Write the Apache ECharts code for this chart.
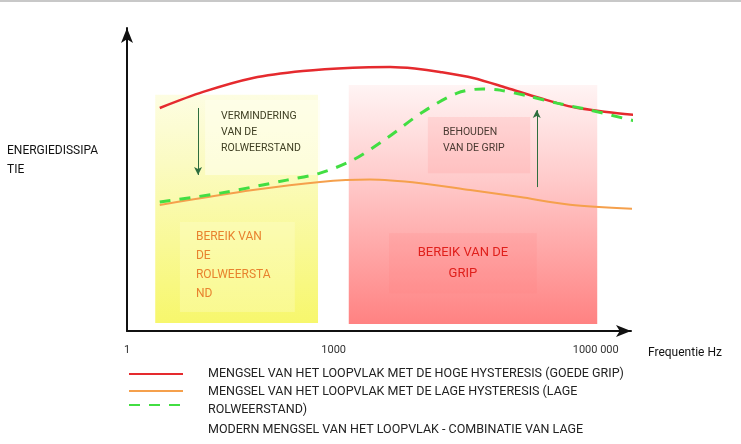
<!DOCTYPE html>
<html>
<head>
<meta charset="utf-8">
<script src="https://cdn.jsdelivr.net/npm/echarts@6/dist/echarts.min.js"></script>
<style>
  html, body { margin: 0; padding: 0; background: #fff; }
  #main { width: 741px; height: 444px; }
</style>
</head>
<body>
<div id="main"></div>
<script>
// x = relatieve frequentie-as (0..100), y = energiedissipatie (0..100)
var xTickPos = [0, 41, 93];
var xTickLabels = ['1', '1000', '1000 000'];

var nameHoog = 'MENGSEL VAN HET LOOPVLAK MET DE HOGE HYSTERESIS (GOEDE GRIP)';
var nameLaag = 'MENGSEL VAN HET LOOPVLAK MET DE LAGE HYSTERESIS (LAGE ROLWEERSTAND)';
var nameModern = 'MODERN MENGSEL VAN HET LOOPVLAK - COMBINATIE VAN LAGE';

// tekstregels van de legenda (zoals in het origineel afgebroken)
var legendaRegels = [
  'MENGSEL VAN HET LOOPVLAK MET DE HOGE HYSTERESIS (GOEDE GRIP)',
  'MENGSEL VAN HET LOOPVLAK MET DE LAGE HYSTERESIS (LAGE',
  'ROLWEERSTAND)',
  'MODERN MENGSEL VAN HET LOOPVLAK - COMBINATIE VAN LAGE'
];

// rode curve: hoge hysteresis
var hoogX = [6.5, 15.1, 25.0, 34.9, 44.8, 52.2, 57.1, 62.1, 68.7, 75.4, 81.9, 88.5, 95.2, 100.8];
var hoogY = [73.6, 78.9, 83.5, 85.8, 86.9, 87.1, 86.6, 85.5, 83.5, 80.2, 76.9, 73.9, 72.3, 71.3];

// oranje curve: lage hysteresis
var laagX = [6.5, 25.0, 38.3, 48.2, 58.3, 68.1, 78.0, 87.9, 100.8];
var laagY = [41.6, 46.5, 49.2, 50.0, 48.8, 46.5, 44.2, 41.7, 40.3];

// groene stippellijn: modern mengsel
var modernX = [6.5, 18.5, 31.7, 38.3, 44.8, 51.6, 58.7, 65.5, 70.6, 74.0, 79.4, 85.3, 91.9, 100.8];
var modernY = [42.6, 45.5, 49.8, 52.1, 56.4, 63.7, 72.3, 78.5, 79.9, 79.5, 77.6, 75.2, 72.9, 69.3];

// gebieden [x1, x2, y1, y2]
var bereikRol = [5.6, 37.9, 2.6, 78.0];
var bereikRolTekst = [10.5, 33.3, 6.3, 36.0];
var verminderingVak = [15.5, 38.3, 51.5, 76.2];
var bereikGrip = [44.0, 93.3, 2.3, 81.2];
var bereikGripTekst = [52.0, 81.3, 12.5, 32.3];
var behoudenVak = [59.7, 80.0, 52.1, 70.6];

// pijlen [x, yStart, yEind]
var pijlOmlaag = [14.1, 73.6, 51.5];
var pijlOmhoog = [81.3, 47.5, 72.9];

function zip(xs, ys) {
  return xs.map(function (x, i) { return [x, ys[i]]; });
}

function vak(r, itemStyle, label, name) {
  return [
    { name: name || '', xAxis: r[0], yAxis: r[3], itemStyle: itemStyle, label: label },
    { xAxis: r[1], yAxis: r[2] }
  ];
}

function legendaIcoon(naam, top) {
  return {
    data: [naam], left: 128, top: top, padding: 0, itemWidth: 54, itemHeight: 14,
    selectedMode: false, itemStyle: { opacity: 0 },
    formatter: function () { return ''; },
    textStyle: { fontSize: 1 }
  };
}

var FONT = 'Roboto';
var regelY = [374, 392, 410, 430];

var myChart = echarts.init(document.getElementById('main'));

var option = {
  backgroundColor: '#fff',
  animation: false,
  textStyle: { fontFamily: FONT },
  grid: { left: 127, right: 110, top: 28, bottom: 113 },
  graphic: [
    { type: 'rect', left: 0, top: 0, shape: { width: 741, height: 2 }, style: { fill: '#c8c8c8' } }
  ].concat(legendaRegels.map(function (t, i) {
    return {
      type: 'text', x: 208, y: regelY[i],
      style: { text: t, font: '12.5px ' + FONT, fill: '#222', verticalAlign: 'middle' }
    };
  })),
  legend: [
    legendaIcoon(nameHoog, 367),
    legendaIcoon(nameLaag, 384),
    legendaIcoon(nameModern, 398)
  ],
  xAxis: {
    type: 'value', min: 0, max: 100, interval: 1,
    name: 'Frequentie Hz', nameLocation: 'end', nameGap: 17,
    nameTextStyle: { fontSize: 12, color: '#111', align: 'left', verticalAlign: 'top', padding: [16, 0, 0, 0] },
    axisLine: { show: true, symbol: ['none', 'arrow'], symbolSize: [9, 15], lineStyle: { color: '#111', width: 2 } },
    axisTick: { show: false },
    splitLine: { show: false },
    axisLabel: {
      margin: 14, fontSize: 11, color: '#333',
      formatter: function (v) {
        var i = xTickPos.indexOf(v);
        return i >= 0 ? xTickLabels[i] : '';
      }
    }
  },
  yAxis: {
    type: 'value', min: 0, max: 100,
    name: 'ENERGIEDISSIPA\nTIE', nameLocation: 'middle', nameRotate: 0, nameGap: 120,
    nameTextStyle: { fontSize: 12, color: '#111', align: 'left', verticalAlign: 'bottom', lineHeight: 19 },
    axisLine: { show: true, symbol: ['none', 'arrow'], symbolSize: [9, 15], lineStyle: { color: '#111', width: 2 } },
    axisTick: { show: false },
    splitLine: { show: false },
    axisLabel: { show: false }
  },
  series: [
    {
      // achtergrondvlakken en pijlen
      type: 'line', data: [], silent: true,
      markArea: {
        silent: true,
        data: [
          vak(bereikRol, {
            color: { type: 'linear', x: 0, y: 0, x2: 0, y2: 1,
              colorStops: [{ offset: 0, color: '#fdfde2' }, { offset: 0.3, color: '#fbfbc2' }, { offset: 1, color: '#f7f76c' }] }
          }, { show: false }),
          vak(verminderingVak, { color: 'rgba(255,255,236,0.6)' }, {
            show: true, position: [16, 8], fontSize: 10.5, lineHeight: 16, color: '#3e3e22'
          }, 'VERMINDERING\nVAN DE\nROLWEERSTAND'),
          vak(bereikRolTekst, { color: 'rgba(255,255,215,0.3)' }, {
            show: true, position: [16, 6], fontSize: 12, lineHeight: 19, color: '#e8822e'
          }, 'BEREIK VAN\nDE\nROLWEERSTA\nND'),
          vak(bereikGrip, {
            color: { type: 'linear', x: 0, y: 0, x2: 0, y2: 1,
              colorStops: [{ offset: 0, color: '#fff4f4' }, { offset: 0.4, color: '#ffcaca' }, { offset: 1, color: '#ff8282' }] }
          }, { show: false }),
          vak(behoudenVak, { color: 'rgba(255,150,150,0.22)' }, {
            show: true, position: [15, 7], fontSize: 10.5, lineHeight: 16, color: '#4a3a32'
          }, 'BEHOUDEN\nVAN DE GRIP'),
          vak(bereikGripTekst, { color: 'rgba(255,120,120,0.15)' }, {
            show: true, position: 'inside', align: 'center', fontSize: 13, lineHeight: 21, color: '#e0201c'
          }, 'BEREIK VAN DE\nGRIP')
        ]
      },
      markLine: {
        silent: true,
        symbol: ['none', 'arrow'],
        symbolSize: [6, 8],
        label: { show: false },
        lineStyle: { color: '#2e6e3e', width: 1, type: 'solid' },
        data: [
          [{ coord: [pijlOmlaag[0], pijlOmlaag[1]] }, { coord: [pijlOmlaag[0], pijlOmlaag[2]] }],
          [{ coord: [pijlOmhoog[0], pijlOmhoog[1]] }, { coord: [pijlOmhoog[0], pijlOmhoog[2]] }]
        ]
      }
    },
    {
      name: nameHoog, type: 'line', smooth: 0.3, symbol: 'none', clip: false, z: 4,
      lineStyle: { color: '#e52a2e', width: 2.5 }, itemStyle: { color: '#e52a2e' },
      data: zip(hoogX, hoogY)
    },
    {
      name: nameLaag, type: 'line', smooth: 0.3, symbol: 'none', clip: false, z: 4,
      lineStyle: { color: '#f5a04c', width: 2 }, itemStyle: { color: '#f5a04c' },
      data: zip(laagX, laagY)
    },
    {
      name: nameModern, type: 'line', smooth: 0.3, symbol: 'none', clip: false, z: 5,
      lineStyle: { color: '#42de42', width: 3, type: [11, 9] }, itemStyle: { color: '#42de42' },
      data: zip(modernX, modernY)
    }
  ]
};

myChart.setOption(option);
</script>
</body>
</html>
